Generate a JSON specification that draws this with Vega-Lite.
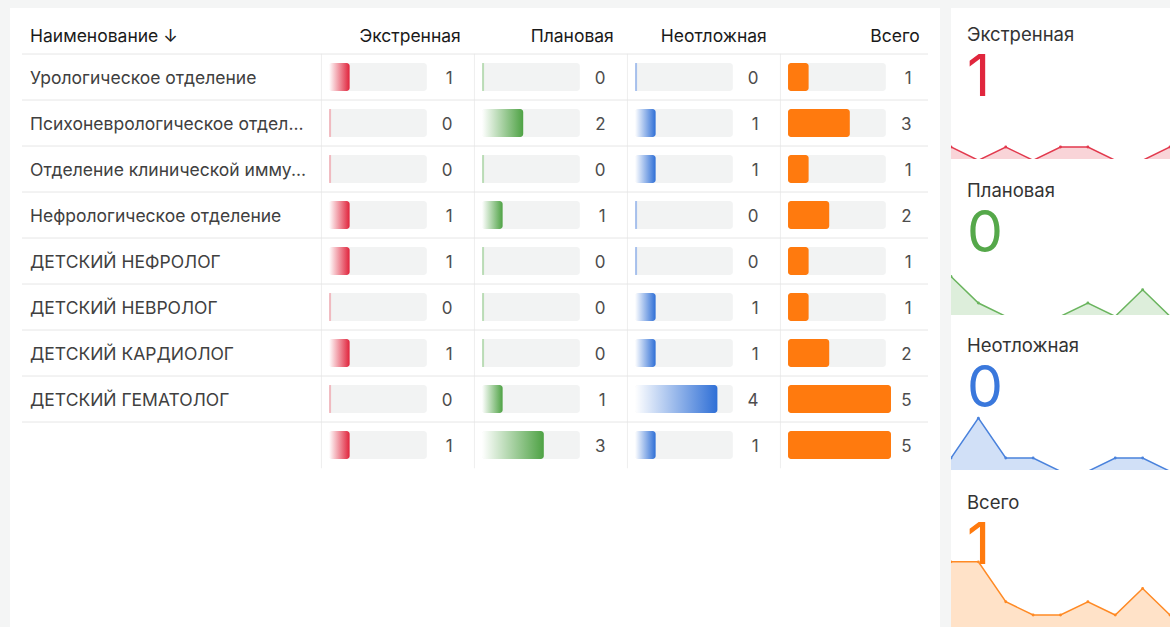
{
  "$schema": "https://vega.github.io/schema/vega-lite/v6.json",
  "background": "#f4f5f5",
  "padding": {"left": 10, "top": 8, "right": 0, "bottom": 0},
  "spacing": 11,
  "config": {
    "font": "Inter",
    "view": {"fill": "white", "stroke": null},
    "axis": {"disable": true}
  },
  "datasets": {
    "rows": [
      {"name": "Урологическое отделение", "E": 1, "P": 0, "N": 0, "T": 1},
      {"name": "Психоневрологическое отделение", "E": 0, "P": 2, "N": 1, "T": 3},
      {"name": "Отделение клинической иммунологии", "E": 0, "P": 0, "N": 1, "T": 1},
      {"name": "Нефрологическое отделение", "E": 1, "P": 1, "N": 0, "T": 2},
      {"name": "ДЕТСКИЙ НЕФРОЛОГ", "E": 1, "P": 0, "N": 0, "T": 1},
      {"name": "ДЕТСКИЙ НЕВРОЛОГ", "E": 0, "P": 0, "N": 1, "T": 1},
      {"name": "ДЕТСКИЙ КАРДИОЛОГ", "E": 1, "P": 0, "N": 1, "T": 2},
      {"name": "ДЕТСКИЙ ГЕМАТОЛОГ", "E": 0, "P": 1, "N": 4, "T": 5},
      {"name": "", "E": 1, "P": 3, "N": 1, "T": 5}
    ],
    "spark": [
      {"metric": "Экстренная", "step": 1, "value": 1},
      {"metric": "Экстренная", "step": 2, "value": 0},
      {"metric": "Экстренная", "step": 3, "value": 1},
      {"metric": "Экстренная", "step": 4, "value": 0},
      {"metric": "Экстренная", "step": 5, "value": 1},
      {"metric": "Экстренная", "step": 6, "value": 1},
      {"metric": "Экстренная", "step": 7, "value": 0},
      {"metric": "Экстренная", "step": 8, "value": 0},
      {"metric": "Экстренная", "step": 9, "value": 1},
      {"metric": "Плановая", "step": 1, "value": 3},
      {"metric": "Плановая", "step": 2, "value": 1},
      {"metric": "Плановая", "step": 3, "value": 0},
      {"metric": "Плановая", "step": 4, "value": 0},
      {"metric": "Плановая", "step": 5, "value": 0},
      {"metric": "Плановая", "step": 6, "value": 1},
      {"metric": "Плановая", "step": 7, "value": 0},
      {"metric": "Плановая", "step": 8, "value": 2},
      {"metric": "Плановая", "step": 9, "value": 0},
      {"metric": "Неотложная", "step": 1, "value": 1},
      {"metric": "Неотложная", "step": 2, "value": 4},
      {"metric": "Неотложная", "step": 3, "value": 1},
      {"metric": "Неотложная", "step": 4, "value": 1},
      {"metric": "Неотложная", "step": 5, "value": 0},
      {"metric": "Неотложная", "step": 6, "value": 0},
      {"metric": "Неотложная", "step": 7, "value": 1},
      {"metric": "Неотложная", "step": 8, "value": 1},
      {"metric": "Неотложная", "step": 9, "value": 0},
      {"metric": "Всего", "step": 1, "value": 5},
      {"metric": "Всего", "step": 2, "value": 5},
      {"metric": "Всего", "step": 3, "value": 2},
      {"metric": "Всего", "step": 4, "value": 1},
      {"metric": "Всего", "step": 5, "value": 1},
      {"metric": "Всего", "step": 6, "value": 2},
      {"metric": "Всего", "step": 7, "value": 1},
      {"metric": "Всего", "step": 8, "value": 3},
      {"metric": "Всего", "step": 9, "value": 1}
    ]
  },
  "hconcat": [
    {
      "spacing": 0,
      "bounds": "flush",
      "hconcat": [
        {
          "width": 311, "height": 619,
          "data": {"name": "rows"},
          "layer": [
            {"mark": {"type": "rule", "color": "#e6e6e6", "strokeWidth": 1},
             "encoding": {
               "x": {"datum": 0.0386, "type": "quantitative", "scale": {"domain": [0, 1], "nice": false, "zero": false}, "axis": null},
               "x2": {"datum": 1},
               "y": {"field": "name", "type": "nominal", "bandPosition": 0, "axis": null, "scale": {"domain": ["Наименование", "Урологическое отделение", "Психоневрологическое отделение", "Отделение клинической иммунологии", "Нефрологическое отделение", "ДЕТСКИЙ НЕФРОЛОГ", "ДЕТСКИЙ НЕВРОЛОГ", "ДЕТСКИЙ КАРДИОЛОГ", "ДЕТСКИЙ ГЕМАТОЛОГ", ""], "paddingInner": 0, "paddingOuter": 0, "range": [0, 460]}}
             }},
            {"mark": {"type": "text", "align": "left", "baseline": "middle", "fontSize": 17.5, "color": "#404040", "limit": 282, "ellipsis": "..."},
             "encoding": {
               "x": {"datum": 0.0643, "type": "quantitative", "scale": {"domain": [0, 1], "nice": false, "zero": false}, "axis": null},
               "y": {"field": "name", "type": "nominal", "bandPosition": 0.545, "axis": null, "scale": {"domain": ["Наименование", "Урологическое отделение", "Психоневрологическое отделение", "Отделение клинической иммунологии", "Нефрологическое отделение", "ДЕТСКИЙ НЕФРОЛОГ", "ДЕТСКИЙ НЕВРОЛОГ", "ДЕТСКИЙ КАРДИОЛОГ", "ДЕТСКИЙ ГЕМАТОЛОГ", ""], "paddingInner": 0, "paddingOuter": 0, "range": [0, 460]}},
               "text": {"field": "name", "type": "nominal"}
             }},
            {"data": {"values": [{"label": "Наименование ↓"}]},
             "mark": {"type": "text", "align": "left", "baseline": "middle", "fontSize": 17.5, "fontWeight": 400, "color": "#1a1a1a"},
             "encoding": {
               "x": {"datum": 0.0643, "type": "quantitative", "scale": {"domain": [0, 1], "nice": false, "zero": false}, "axis": null},
               "y": {"datum": "Наименование", "type": "nominal", "bandPosition": 0.64, "axis": null, "scale": {"domain": ["Наименование", "Урологическое отделение", "Психоневрологическое отделение", "Отделение клинической иммунологии", "Нефрологическое отделение", "ДЕТСКИЙ НЕФРОЛОГ", "ДЕТСКИЙ НЕВРОЛОГ", "ДЕТСКИЙ КАРДИОЛОГ", "ДЕТСКИЙ ГЕМАТОЛОГ", ""], "paddingInner": 0, "paddingOuter": 0, "range": [0, 460]}},
               "text": {"field": "label", "type": "nominal"}
             }}
          ]
        },
        {
          "width": 153, "height": 619,
          "data": {"name": "rows"},
          "encoding": {
            "y": {"field": "name", "type": "nominal", "axis": null, "scale": {"domain": ["Наименование", "Урологическое отделение", "Психоневрологическое отделение", "Отделение клинической иммунологии", "Нефрологическое отделение", "ДЕТСКИЙ НЕФРОЛОГ", "ДЕТСКИЙ НЕВРОЛОГ", "ДЕТСКИЙ КАРДИОЛОГ", "ДЕТСКИЙ ГЕМАТОЛОГ", ""], "paddingInner": 0, "paddingOuter": 0, "range": [0, 460]}}
          },
          "layer": [
            {"mark": {"type": "tick", "orient": "vertical", "size": 46.5, "thickness": 1, "color": "#e6e6e6"},
             "encoding": {"x": {"datum": -0.37, "type": "quantitative", "scale": {"domain": [-0.39, 7.04], "nice": false, "zero": false}, "axis": null}}},
            {"mark": {"type": "rule", "color": "#e6e6e6", "strokeWidth": 1},
             "encoding": {"y": {"field": "name", "type": "nominal", "bandPosition": 0, "axis": null, "scale": {"domain": ["Наименование", "Урологическое отделение", "Психоневрологическое отделение", "Отделение клинической иммунологии", "Нефрологическое отделение", "ДЕТСКИЙ НЕФРОЛОГ", "ДЕТСКИЙ НЕВРОЛОГ", "ДЕТСКИЙ КАРДИОЛОГ", "ДЕТСКИЙ ГЕМАТОЛОГ", ""], "paddingInner": 0, "paddingOuter": 0, "range": [0, 460]}}}},
            {"mark": {"type": "bar", "color": "#f2f3f3", "cornerRadius": 3, "size": 28},
             "encoding": {"x": {"datum": 0, "type": "quantitative", "scale": {"domain": [-0.39, 7.04], "nice": false, "zero": false}, "axis": null}, "x2": {"datum": 4.75}}},
            {"mark": {"type": "bar", "cornerRadius": 3, "size": 28, "fill": {"gradient": "linear", "x1": 0, "y1": 0, "x2": 1, "y2": 0, "stops": [{"offset": 0, "color": "#ffffff"}, {"offset": 1, "color": "#e0233b"}]}},
             "encoding": {"x": {"field": "E", "type": "quantitative", "scale": {"domain": [-0.39, 7.04], "nice": false, "zero": false}, "axis": null}, "x2": {"datum": 0}}},
            {"transform": [{"filter": "datum.E == 0"}],
             "mark": {"type": "tick", "orient": "vertical", "size": 28, "thickness": 2, "color": "#f0a1aa"},
             "encoding": {"x": {"datum": 0.05, "type": "quantitative", "scale": {"domain": [-0.39, 7.04], "nice": false, "zero": false}, "axis": null}}},
            {"mark": {"type": "text", "align": "right", "baseline": "middle", "fontSize": 17, "color": "#4d4d4d"},
             "encoding": {"x": {"datum": 6, "type": "quantitative", "scale": {"domain": [-0.39, 7.04], "nice": false, "zero": false}, "axis": null},
               "y": {"field": "name", "type": "nominal", "bandPosition": 0.545, "axis": null, "scale": {"domain": ["Наименование", "Урологическое отделение", "Психоневрологическое отделение", "Отделение клинической иммунологии", "Нефрологическое отделение", "ДЕТСКИЙ НЕФРОЛОГ", "ДЕТСКИЙ НЕВРОЛОГ", "ДЕТСКИЙ КАРДИОЛОГ", "ДЕТСКИЙ ГЕМАТОЛОГ", ""], "paddingInner": 0, "paddingOuter": 0, "range": [0, 460]}},
               "text": {"field": "E", "type": "quantitative"}}},
            {"data": {"values": [{"label": "Экстренная"}]},
             "mark": {"type": "text", "align": "right", "baseline": "middle", "fontSize": 17.5, "fontWeight": 400, "color": "#1a1a1a"},
             "encoding": {
               "x": {"datum": 6.4, "type": "quantitative", "scale": {"domain": [-0.39, 7.04], "nice": false, "zero": false}, "axis": null},
               "y": {"datum": "Наименование", "type": "nominal", "bandPosition": 0.64, "axis": null, "scale": {"domain": ["Наименование", "Урологическое отделение", "Психоневрологическое отделение", "Отделение клинической иммунологии", "Нефрологическое отделение", "ДЕТСКИЙ НЕФРОЛОГ", "ДЕТСКИЙ НЕВРОЛОГ", "ДЕТСКИЙ КАРДИОЛОГ", "ДЕТСКИЙ ГЕМАТОЛОГ", ""], "paddingInner": 0, "paddingOuter": 0, "range": [0, 460]}},
               "text": {"field": "label", "type": "nominal"}
             }}
          ]
        },
        {
          "width": 153, "height": 619,
          "data": {"name": "rows"},
          "encoding": {
            "y": {"field": "name", "type": "nominal", "axis": null, "scale": {"domain": ["Наименование", "Урологическое отделение", "Психоневрологическое отделение", "Отделение клинической иммунологии", "Нефрологическое отделение", "ДЕТСКИЙ НЕФРОЛОГ", "ДЕТСКИЙ НЕВРОЛОГ", "ДЕТСКИЙ КАРДИОЛОГ", "ДЕТСКИЙ ГЕМАТОЛОГ", ""], "paddingInner": 0, "paddingOuter": 0, "range": [0, 460]}}
          },
          "layer": [
            {"mark": {"type": "tick", "orient": "vertical", "size": 46.5, "thickness": 1, "color": "#e6e6e6"},
             "encoding": {"x": {"datum": -0.37, "type": "quantitative", "scale": {"domain": [-0.39, 7.04], "nice": false, "zero": false}, "axis": null}}},
            {"mark": {"type": "rule", "color": "#e6e6e6", "strokeWidth": 1},
             "encoding": {"y": {"field": "name", "type": "nominal", "bandPosition": 0, "axis": null, "scale": {"domain": ["Наименование", "Урологическое отделение", "Психоневрологическое отделение", "Отделение клинической иммунологии", "Нефрологическое отделение", "ДЕТСКИЙ НЕФРОЛОГ", "ДЕТСКИЙ НЕВРОЛОГ", "ДЕТСКИЙ КАРДИОЛОГ", "ДЕТСКИЙ ГЕМАТОЛОГ", ""], "paddingInner": 0, "paddingOuter": 0, "range": [0, 460]}}}},
            {"mark": {"type": "bar", "color": "#f2f3f3", "cornerRadius": 3, "size": 28},
             "encoding": {"x": {"datum": 0, "type": "quantitative", "scale": {"domain": [-0.39, 7.04], "nice": false, "zero": false}, "axis": null}, "x2": {"datum": 4.75}}},
            {"mark": {"type": "bar", "cornerRadius": 3, "size": 28, "fill": {"gradient": "linear", "x1": 0, "y1": 0, "x2": 1, "y2": 0, "stops": [{"offset": 0, "color": "#ffffff"}, {"offset": 1, "color": "#4ea244"}]}},
             "encoding": {"x": {"field": "P", "type": "quantitative", "scale": {"domain": [-0.39, 7.04], "nice": false, "zero": false}, "axis": null}, "x2": {"datum": 0}}},
            {"transform": [{"filter": "datum.P == 0"}],
             "mark": {"type": "tick", "orient": "vertical", "size": 28, "thickness": 2, "color": "#a3d29b"},
             "encoding": {"x": {"datum": 0.05, "type": "quantitative", "scale": {"domain": [-0.39, 7.04], "nice": false, "zero": false}, "axis": null}}},
            {"mark": {"type": "text", "align": "right", "baseline": "middle", "fontSize": 17, "color": "#4d4d4d"},
             "encoding": {"x": {"datum": 6, "type": "quantitative", "scale": {"domain": [-0.39, 7.04], "nice": false, "zero": false}, "axis": null},
               "y": {"field": "name", "type": "nominal", "bandPosition": 0.545, "axis": null, "scale": {"domain": ["Наименование", "Урологическое отделение", "Психоневрологическое отделение", "Отделение клинической иммунологии", "Нефрологическое отделение", "ДЕТСКИЙ НЕФРОЛОГ", "ДЕТСКИЙ НЕВРОЛОГ", "ДЕТСКИЙ КАРДИОЛОГ", "ДЕТСКИЙ ГЕМАТОЛОГ", ""], "paddingInner": 0, "paddingOuter": 0, "range": [0, 460]}},
               "text": {"field": "P", "type": "quantitative"}}},
            {"data": {"values": [{"label": "Плановая"}]},
             "mark": {"type": "text", "align": "right", "baseline": "middle", "fontSize": 17.5, "fontWeight": 400, "color": "#1a1a1a"},
             "encoding": {
               "x": {"datum": 6.4, "type": "quantitative", "scale": {"domain": [-0.39, 7.04], "nice": false, "zero": false}, "axis": null},
               "y": {"datum": "Наименование", "type": "nominal", "bandPosition": 0.64, "axis": null, "scale": {"domain": ["Наименование", "Урологическое отделение", "Психоневрологическое отделение", "Отделение клинической иммунологии", "Нефрологическое отделение", "ДЕТСКИЙ НЕФРОЛОГ", "ДЕТСКИЙ НЕВРОЛОГ", "ДЕТСКИЙ КАРДИОЛОГ", "ДЕТСКИЙ ГЕМАТОЛОГ", ""], "paddingInner": 0, "paddingOuter": 0, "range": [0, 460]}},
               "text": {"field": "label", "type": "nominal"}
             }}
          ]
        },
        {
          "width": 153, "height": 619,
          "data": {"name": "rows"},
          "encoding": {
            "y": {"field": "name", "type": "nominal", "axis": null, "scale": {"domain": ["Наименование", "Урологическое отделение", "Психоневрологическое отделение", "Отделение клинической иммунологии", "Нефрологическое отделение", "ДЕТСКИЙ НЕФРОЛОГ", "ДЕТСКИЙ НЕВРОЛОГ", "ДЕТСКИЙ КАРДИОЛОГ", "ДЕТСКИЙ ГЕМАТОЛОГ", ""], "paddingInner": 0, "paddingOuter": 0, "range": [0, 460]}}
          },
          "layer": [
            {"mark": {"type": "tick", "orient": "vertical", "size": 46.5, "thickness": 1, "color": "#e6e6e6"},
             "encoding": {"x": {"datum": -0.37, "type": "quantitative", "scale": {"domain": [-0.39, 7.04], "nice": false, "zero": false}, "axis": null}}},
            {"mark": {"type": "rule", "color": "#e6e6e6", "strokeWidth": 1},
             "encoding": {"y": {"field": "name", "type": "nominal", "bandPosition": 0, "axis": null, "scale": {"domain": ["Наименование", "Урологическое отделение", "Психоневрологическое отделение", "Отделение клинической иммунологии", "Нефрологическое отделение", "ДЕТСКИЙ НЕФРОЛОГ", "ДЕТСКИЙ НЕВРОЛОГ", "ДЕТСКИЙ КАРДИОЛОГ", "ДЕТСКИЙ ГЕМАТОЛОГ", ""], "paddingInner": 0, "paddingOuter": 0, "range": [0, 460]}}}},
            {"mark": {"type": "bar", "color": "#f2f3f3", "cornerRadius": 3, "size": 28},
             "encoding": {"x": {"datum": 0, "type": "quantitative", "scale": {"domain": [-0.39, 7.04], "nice": false, "zero": false}, "axis": null}, "x2": {"datum": 4.75}}},
            {"mark": {"type": "bar", "cornerRadius": 3, "size": 28, "fill": {"gradient": "linear", "x1": 0, "y1": 0, "x2": 1, "y2": 0, "stops": [{"offset": 0, "color": "#ffffff"}, {"offset": 1, "color": "#2f6fd6"}]}},
             "encoding": {"x": {"field": "N", "type": "quantitative", "scale": {"domain": [-0.39, 7.04], "nice": false, "zero": false}, "axis": null}, "x2": {"datum": 0}}},
            {"transform": [{"filter": "datum.N == 0"}],
             "mark": {"type": "tick", "orient": "vertical", "size": 28, "thickness": 2, "color": "#86aae8"},
             "encoding": {"x": {"datum": 0.05, "type": "quantitative", "scale": {"domain": [-0.39, 7.04], "nice": false, "zero": false}, "axis": null}}},
            {"mark": {"type": "text", "align": "right", "baseline": "middle", "fontSize": 17, "color": "#4d4d4d"},
             "encoding": {"x": {"datum": 6, "type": "quantitative", "scale": {"domain": [-0.39, 7.04], "nice": false, "zero": false}, "axis": null},
               "y": {"field": "name", "type": "nominal", "bandPosition": 0.545, "axis": null, "scale": {"domain": ["Наименование", "Урологическое отделение", "Психоневрологическое отделение", "Отделение клинической иммунологии", "Нефрологическое отделение", "ДЕТСКИЙ НЕФРОЛОГ", "ДЕТСКИЙ НЕВРОЛОГ", "ДЕТСКИЙ КАРДИОЛОГ", "ДЕТСКИЙ ГЕМАТОЛОГ", ""], "paddingInner": 0, "paddingOuter": 0, "range": [0, 460]}},
               "text": {"field": "N", "type": "quantitative"}}},
            {"data": {"values": [{"label": "Неотложная"}]},
             "mark": {"type": "text", "align": "right", "baseline": "middle", "fontSize": 17.5, "fontWeight": 400, "color": "#1a1a1a"},
             "encoding": {
               "x": {"datum": 6.4, "type": "quantitative", "scale": {"domain": [-0.39, 7.04], "nice": false, "zero": false}, "axis": null},
               "y": {"datum": "Наименование", "type": "nominal", "bandPosition": 0.64, "axis": null, "scale": {"domain": ["Наименование", "Урологическое отделение", "Психоневрологическое отделение", "Отделение клинической иммунологии", "Нефрологическое отделение", "ДЕТСКИЙ НЕФРОЛОГ", "ДЕТСКИЙ НЕВРОЛОГ", "ДЕТСКИЙ КАРДИОЛОГ", "ДЕТСКИЙ ГЕМАТОЛОГ", ""], "paddingInner": 0, "paddingOuter": 0, "range": [0, 460]}},
               "text": {"field": "label", "type": "nominal"}
             }}
          ]
        },
        {
          "width": 160, "height": 619,
          "data": {"name": "rows"},
          "encoding": {
            "y": {"field": "name", "type": "nominal", "axis": null, "scale": {"domain": ["Наименование", "Урологическое отделение", "Психоневрологическое отделение", "Отделение клинической иммунологии", "Нефрологическое отделение", "ДЕТСКИЙ НЕФРОЛОГ", "ДЕТСКИЙ НЕВРОЛОГ", "ДЕТСКИЙ КАРДИОЛОГ", "ДЕТСКИЙ ГЕМАТОЛОГ", ""], "paddingInner": 0, "paddingOuter": 0, "range": [0, 460]}}
          },
          "layer": [
            {"mark": {"type": "tick", "orient": "vertical", "size": 46.5, "thickness": 1, "color": "#e6e6e6"},
             "encoding": {"x": {"datum": -0.37, "type": "quantitative", "scale": {"domain": [-0.39, 7.38], "nice": false, "zero": false}, "axis": null}}},
            {"mark": {"type": "rule", "color": "#e6e6e6", "strokeWidth": 1},
             "encoding": {
               "x": {"datum": -0.39, "type": "quantitative", "scale": {"domain": [-0.39, 7.38], "nice": false, "zero": false}, "axis": null},
               "x2": {"datum": 6.8},
               "y": {"field": "name", "type": "nominal", "bandPosition": 0, "axis": null, "scale": {"domain": ["Наименование", "Урологическое отделение", "Психоневрологическое отделение", "Отделение клинической иммунологии", "Нефрологическое отделение", "ДЕТСКИЙ НЕФРОЛОГ", "ДЕТСКИЙ НЕВРОЛОГ", "ДЕТСКИЙ КАРДИОЛОГ", "ДЕТСКИЙ ГЕМАТОЛОГ", ""], "paddingInner": 0, "paddingOuter": 0, "range": [0, 460]}}}},
            {"mark": {"type": "bar", "color": "#f2f3f3", "cornerRadius": 3, "size": 28},
             "encoding": {"x": {"datum": 0, "type": "quantitative", "scale": {"domain": [-0.39, 7.38], "nice": false, "zero": false}, "axis": null}, "x2": {"datum": 4.75}}},
            {"mark": {"type": "bar", "cornerRadius": 3, "size": 28, "fill": "#ff7a0e"},
             "encoding": {"x": {"field": "T", "type": "quantitative", "scale": {"domain": [-0.39, 7.38], "nice": false, "zero": false}, "axis": null}, "x2": {"datum": 0}}},
            {"mark": {"type": "text", "align": "right", "baseline": "middle", "fontSize": 17, "color": "#4d4d4d"},
             "encoding": {"x": {"datum": 6, "type": "quantitative", "scale": {"domain": [-0.39, 7.38], "nice": false, "zero": false}, "axis": null},
               "y": {"field": "name", "type": "nominal", "bandPosition": 0.545, "axis": null, "scale": {"domain": ["Наименование", "Урологическое отделение", "Психоневрологическое отделение", "Отделение клинической иммунологии", "Нефрологическое отделение", "ДЕТСКИЙ НЕФРОЛОГ", "ДЕТСКИЙ НЕВРОЛОГ", "ДЕТСКИЙ КАРДИОЛОГ", "ДЕТСКИЙ ГЕМАТОЛОГ", ""], "paddingInner": 0, "paddingOuter": 0, "range": [0, 460]}},
               "text": {"field": "T", "type": "quantitative"}}},
            {"data": {"values": [{"label": "Всего"}]},
             "mark": {"type": "text", "align": "right", "baseline": "middle", "fontSize": 17.5, "fontWeight": 400, "color": "#1a1a1a"},
             "encoding": {
               "x": {"datum": 6.4, "type": "quantitative", "scale": {"domain": [-0.39, 7.38], "nice": false, "zero": false}, "axis": null},
               "y": {"datum": "Наименование", "type": "nominal", "bandPosition": 0.64, "axis": null, "scale": {"domain": ["Наименование", "Урологическое отделение", "Психоневрологическое отделение", "Отделение клинической иммунологии", "Нефрологическое отделение", "ДЕТСКИЙ НЕФРОЛОГ", "ДЕТСКИЙ НЕВРОЛОГ", "ДЕТСКИЙ КАРДИОЛОГ", "ДЕТСКИЙ ГЕМАТОЛОГ", ""], "paddingInner": 0, "paddingOuter": 0, "range": [0, 460]}},
               "text": {"field": "label", "type": "nominal"}
             }}
          ]
        }
      ]
    },
    {
      "spacing": 0,
      "bounds": "flush",
      "vconcat": [
        {
          "width": 219, "height": 151,
          "data": {"name": "spark"},
          "transform": [{"filter": "datum.metric == 'Экстренная'"}],
          "layer": [
            {"transform": [{"filter": "datum.step == 9"}],
             "mark": {"type": "text", "align": "left", "baseline": "alphabetic", "fontSize": 18.5, "color": "#333333"},
             "encoding": {"x": {"datum": 1.584, "type": "quantitative", "scale": {"domain": [1, 9], "nice": false, "zero": false}, "axis": null}, "y": {"datum": 8.96, "type": "quantitative", "scale": {"domain": [0.1, 11.453], "nice": false, "zero": false}, "axis": null}, "text": {"field": "metric", "type": "nominal"}}},
            {"transform": [{"filter": "datum.step == 9"}],
             "mark": {"type": "text", "align": "left", "baseline": "alphabetic", "fontSize": 57, "color": "#e0263d"},
             "encoding": {"x": {"datum": 1.584, "type": "quantitative", "scale": {"domain": [1, 9], "nice": false, "zero": false}, "axis": null}, "y": {"datum": 4.85, "type": "quantitative", "scale": {"domain": [0.1, 11.453], "nice": false, "zero": false}, "axis": null}, "text": {"field": "value", "type": "quantitative"}}},
            {"mark": {"type": "area", "color": "#e0263d", "opacity": 0.2, "clip": true},
             "encoding": {"x": {"field": "step", "type": "quantitative", "scale": {"domain": [1, 9], "nice": false, "zero": false}, "axis": null}, "y": {"field": "value", "type": "quantitative", "scale": {"domain": [0.1, 11.453], "nice": false, "zero": false}, "axis": null}}},
            {"mark": {"type": "line", "color": "#e2394d", "strokeWidth": 1.5, "clip": true, "point": {"filled": true, "size": 8, "color": "#e2394d"}},
             "encoding": {"x": {"field": "step", "type": "quantitative", "scale": {"domain": [1, 9], "nice": false, "zero": false}, "axis": null}, "y": {"field": "value", "type": "quantitative", "scale": {"domain": [0.1, 11.453], "nice": false, "zero": false}, "axis": null}}}
          ]
        },
        {
          "width": 219, "height": 156,
          "data": {"name": "spark"},
          "transform": [{"filter": "datum.metric == 'Плановая'"}],
          "layer": [
            {"transform": [{"filter": "datum.step == 9"}],
             "mark": {"type": "text", "align": "left", "baseline": "alphabetic", "fontSize": 18.5, "color": "#333333"},
             "encoding": {"x": {"datum": 1.584, "type": "quantitative", "scale": {"domain": [1, 9], "nice": false, "zero": false}, "axis": null}, "y": {"datum": 8.96, "type": "quantitative", "scale": {"domain": [0.1, 11.829], "nice": false, "zero": false}, "axis": null}, "text": {"field": "metric", "type": "nominal"}}},
            {"transform": [{"filter": "datum.step == 9"}],
             "mark": {"type": "text", "align": "left", "baseline": "alphabetic", "fontSize": 57, "color": "#55a84a"},
             "encoding": {"x": {"datum": 1.584, "type": "quantitative", "scale": {"domain": [1, 9], "nice": false, "zero": false}, "axis": null}, "y": {"datum": 4.85, "type": "quantitative", "scale": {"domain": [0.1, 11.829], "nice": false, "zero": false}, "axis": null}, "text": {"field": "value", "type": "quantitative"}}},
            {"mark": {"type": "area", "color": "#55a84a", "opacity": 0.2, "clip": true},
             "encoding": {"x": {"field": "step", "type": "quantitative", "scale": {"domain": [1, 9], "nice": false, "zero": false}, "axis": null}, "y": {"field": "value", "type": "quantitative", "scale": {"domain": [0.1, 11.829], "nice": false, "zero": false}, "axis": null}}},
            {"mark": {"type": "line", "color": "#6ab45e", "strokeWidth": 1.5, "clip": true, "point": {"filled": true, "size": 8, "color": "#6ab45e"}},
             "encoding": {"x": {"field": "step", "type": "quantitative", "scale": {"domain": [1, 9], "nice": false, "zero": false}, "axis": null}, "y": {"field": "value", "type": "quantitative", "scale": {"domain": [0.1, 11.829], "nice": false, "zero": false}, "axis": null}}}
          ]
        },
        {
          "width": 219, "height": 155,
          "data": {"name": "spark"},
          "transform": [{"filter": "datum.metric == 'Неотложная'"}],
          "layer": [
            {"transform": [{"filter": "datum.step == 9"}],
             "mark": {"type": "text", "align": "left", "baseline": "alphabetic", "fontSize": 18.5, "color": "#333333"},
             "encoding": {"x": {"datum": 1.584, "type": "quantitative", "scale": {"domain": [1, 9], "nice": false, "zero": false}, "axis": null}, "y": {"datum": 8.96, "type": "quantitative", "scale": {"domain": [0.1, 11.754], "nice": false, "zero": false}, "axis": null}, "text": {"field": "metric", "type": "nominal"}}},
            {"transform": [{"filter": "datum.step == 9"}],
             "mark": {"type": "text", "align": "left", "baseline": "alphabetic", "fontSize": 57, "color": "#3a78dc"},
             "encoding": {"x": {"datum": 1.584, "type": "quantitative", "scale": {"domain": [1, 9], "nice": false, "zero": false}, "axis": null}, "y": {"datum": 4.85, "type": "quantitative", "scale": {"domain": [0.1, 11.754], "nice": false, "zero": false}, "axis": null}, "text": {"field": "value", "type": "quantitative"}}},
            {"mark": {"type": "area", "color": "#3a78dc", "opacity": 0.23, "clip": true},
             "encoding": {"x": {"field": "step", "type": "quantitative", "scale": {"domain": [1, 9], "nice": false, "zero": false}, "axis": null}, "y": {"field": "value", "type": "quantitative", "scale": {"domain": [0.1, 11.754], "nice": false, "zero": false}, "axis": null}}},
            {"mark": {"type": "line", "color": "#4a82dc", "strokeWidth": 1.5, "clip": true, "point": {"filled": true, "size": 8, "color": "#4a82dc"}},
             "encoding": {"x": {"field": "step", "type": "quantitative", "scale": {"domain": [1, 9], "nice": false, "zero": false}, "axis": null}, "y": {"field": "value", "type": "quantitative", "scale": {"domain": [0.1, 11.754], "nice": false, "zero": false}, "axis": null}}}
          ]
        },
        {
          "width": 219, "height": 157,
          "data": {"name": "spark"},
          "transform": [{"filter": "datum.metric == 'Всего'"}],
          "layer": [
            {"transform": [{"filter": "datum.step == 9"}],
             "mark": {"type": "text", "align": "left", "baseline": "alphabetic", "fontSize": 18.5, "color": "#333333"},
             "encoding": {"x": {"datum": 1.584, "type": "quantitative", "scale": {"domain": [1, 9], "nice": false, "zero": false}, "axis": null}, "y": {"datum": 8.96, "type": "quantitative", "scale": {"domain": [0.1, 11.905], "nice": false, "zero": false}, "axis": null}, "text": {"field": "metric", "type": "nominal"}}},
            {"transform": [{"filter": "datum.step == 9"}],
             "mark": {"type": "text", "align": "left", "baseline": "alphabetic", "fontSize": 57, "color": "#ff7a0e"},
             "encoding": {"x": {"datum": 1.584, "type": "quantitative", "scale": {"domain": [1, 9], "nice": false, "zero": false}, "axis": null}, "y": {"datum": 4.85, "type": "quantitative", "scale": {"domain": [0.1, 11.905], "nice": false, "zero": false}, "axis": null}, "text": {"field": "value", "type": "quantitative"}}},
            {"mark": {"type": "area", "color": "#ff8a25", "opacity": 0.25, "clip": true},
             "encoding": {"x": {"field": "step", "type": "quantitative", "scale": {"domain": [1, 9], "nice": false, "zero": false}, "axis": null}, "y": {"field": "value", "type": "quantitative", "scale": {"domain": [0.1, 11.905], "nice": false, "zero": false}, "axis": null}}},
            {"mark": {"type": "line", "color": "#ff8a25", "strokeWidth": 1.5, "clip": true, "point": {"filled": true, "size": 8, "color": "#ff8a25"}},
             "encoding": {"x": {"field": "step", "type": "quantitative", "scale": {"domain": [1, 9], "nice": false, "zero": false}, "axis": null}, "y": {"field": "value", "type": "quantitative", "scale": {"domain": [0.1, 11.905], "nice": false, "zero": false}, "axis": null}}}
          ]
        }
      ]
    }
  ]
}
